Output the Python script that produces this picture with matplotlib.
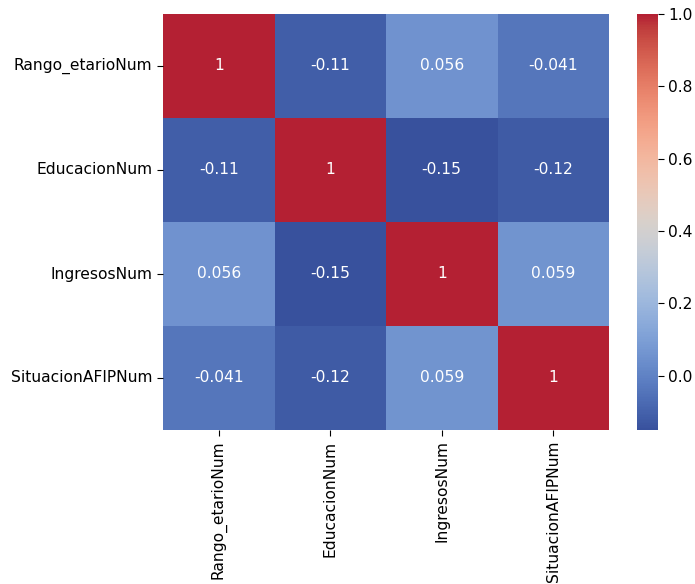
import numpy as np
import matplotlib
matplotlib.use("Agg")
import matplotlib.pyplot as plt
from matplotlib.colors import ListedColormap
import seaborn as sns

# Variables and their correlation matrix
variables = ["Rango_etarioNum", "EducacionNum", "IngresosNum", "SituacionAFIPNum"]
corr = np.array([
    [1.0, -0.11, 0.056, -0.041],
    [-0.11, 1.0, -0.15, -0.12],
    [0.056, -0.15, 1.0, 0.059],
    [-0.041, -0.12, 0.059, 1.0],
])

# muted coolwarm: fit a 3x3 colour matrix on a few reference tones
base = plt.get_cmap("coolwarm")
lo, hi = corr.min(), corr.max()
pos = lambda v: (v - lo) / (hi - lo)
src = np.array([base(1.0)[:3], base(0.0)[:3], base(pos(0.056))[:3],
                base(pos(-0.041))[:3], base(0.5)[:3]])
dst = np.array([[179, 31, 50], [62, 94, 170], [110, 140, 200],
                [80, 110, 180], [218, 212, 206]]) / 255.0
M = np.linalg.lstsq(src, dst, rcond=None)[0]
rgb = base(np.linspace(0, 1, 256))[:, :3] @ M
cmap = ListedColormap(np.clip(rgb, 0, 1))

fs = 11.2
fig = plt.figure(figsize=(6.95, 5.84), dpi=100)
W, H = 695, 584
ax = fig.add_axes([163 / W, 1 - 430 / H, (609 - 163) / W, (430 - 14) / H])
cax = fig.add_axes([637 / W, 1 - 430 / H, (658 - 637) / W, (430 - 14) / H])

sns.heatmap(corr, annot=True, cmap=cmap, ax=ax, cbar_ax=cax,
            xticklabels=variables, yticklabels=variables,
            annot_kws={"fontsize": fs})
ax.tick_params(axis="x", labelrotation=90, labelsize=fs, length=4)
ax.tick_params(axis="y", labelrotation=0, labelsize=fs, length=4)
cax.tick_params(labelsize=fs, length=4)
cax.set_yticks([0.0, 0.2, 0.4, 0.6, 0.8, 1.0])

fig.savefig("out.png", dpi=100)
